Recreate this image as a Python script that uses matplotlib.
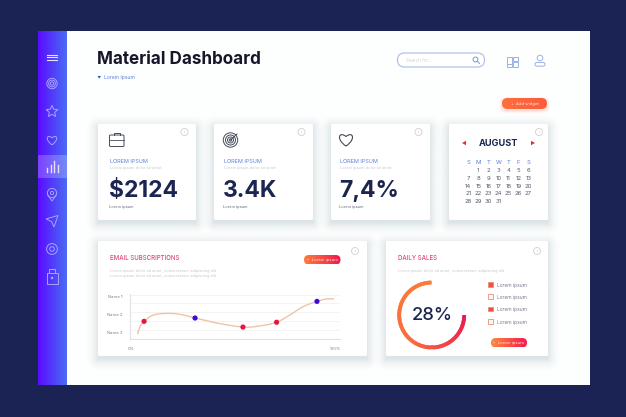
"""Material Dashboard mockup, drawn on a full-figure pixel axes."""
import matplotlib

matplotlib.use("Agg")
import matplotlib.pyplot as plt  # noqa: E402
import numpy as np  # noqa: E402
from matplotlib.collections import LineCollection  # noqa: E402
from matplotlib.colors import LinearSegmentedColormap, to_rgb  # noqa: E402
from matplotlib.patches import (Circle, FancyBboxPatch, Polygon,  # noqa: E402
                                Rectangle)
from matplotlib.path import Path  # noqa: E402
from matplotlib.patches import PathPatch  # noqa: E402

W, H = 626, 417
NAVY = "#1a2353"
INK = "#1c2550"
BLUE = "#5b7fd6"
PINK = "#d9487a"
GREY = "#c6c8d0"
ICON = "#454a5c"

# line chart
line_x = [3.3, 4.4, 6.4, 10.9, 17.5, 24, 31.4, 42, 54.9, 63.2, 71.4, 77.9, 84.3, 91.2, 95.9, 99.2]
line_y = [-0.04, 0.34, 0.63, 0.97, 1.06, 1.01, 0.81, 0.54, 0.32, 0.38, 0.58, 0.97, 1.42, 1.71, 1.84, 1.85]
red_x = [6.4, 54.9, 71.4]
red_y = [0.63, 0.32, 0.58]
blue_x = [31.4, 91.2]
blue_y = [0.81, 1.71]
grid_y = [0.15, 0.63, 1.12, 1.6, 2.07]
name_ticks = [0, 1, 2]
name_labels = ["Name 3", "Name 2", "Name 1"]
pct_ticks = [0, 100]
pct_labels = ["0%", "100%"]

# gauge: the label says 28 but the ring is drawn about three quarters round
gauge_label = "28%"
gauge_arc_pct = 75

# stat cards
card_values = ["$2124", "3.4K", "7,4%"]

# calendar
week_days = ["S", "M", "T", "W", "T", "F", "S"]
first_weekday = 1
month_days = 31

legend_filled = [True, False, True, False]


def grad_fill(ax, box, c0, c1, clip=None, horizontal=True):
    x0, y0, x1, y1 = box
    cmap = LinearSegmentedColormap.from_list("g", [c0, c1])
    g = np.linspace(0, 1, 128)
    g = g.reshape(1, -1) if horizontal else g.reshape(-1, 1)
    im = ax.imshow(g, extent=(x0, x1, y1, y0), cmap=cmap, aspect="auto",
                   origin="upper", zorder=3)
    if clip is not None:
        im.set_clip_path(clip)
    return im


def card(ax, x0, y0, x1, y1):
    # soft shadow: alpha falls off with the distance from the card box
    pad, off = 14, 3
    xs = np.arange(x0 - pad, x1 + pad + 1)
    ys = np.arange(y0 - pad + off, y1 + pad + off + 1)
    gx, gy = np.meshgrid(xs, ys)
    dx = np.maximum(np.maximum(x0 - gx, gx - x1), 0)
    dy = np.maximum(np.maximum(y0 + off - gy, gy - y1 - off), 0)
    d = np.hypot(dx, dy)
    rgba = np.zeros(d.shape + (4,))
    rgba[..., :3] = to_rgb("#5f7f8c")
    rgba[..., 3] = 0.2 * np.clip(1 - d / pad, 0, 1) ** 2
    ax.imshow(rgba, extent=(xs[0], xs[-1], ys[-1], ys[0]), aspect="auto",
              origin="upper", zorder=1.5, interpolation="bilinear")
    ax.add_patch(FancyBboxPatch((x0, y0), x1 - x0, y1 - y0,
                                boxstyle="round,pad=0,rounding_size=1.5",
                                fc="white", ec="none", zorder=2))


def info(ax, x, y):
    ax.add_patch(Circle((x, y), 3.5, fc="white", ec="#d6d6d6", lw=0.7, zorder=3))
    ax.text(x, y, "i", fontsize=3, color="#bbbbbb", ha="center", va="center", zorder=4)


def button(ax, x0, y0, x1, y1, c0, c1, label):
    pill = FancyBboxPatch((x0, y0), x1 - x0, y1 - y0,
                          boxstyle=f"round,pad=0,rounding_size={(y1 - y0) / 2}",
                          fc="none", ec="none", zorder=3)
    ax.add_patch(pill)
    grad_fill(ax, (x0, y0, x1, y1), c0, c1, clip=pill)
    ax.text((x0 + x1) / 2, (y0 + y1) / 2, label, fontsize=3.0, color="#ffe9e0",
            ha="center", va="center", zorder=5)


def star_points(cx, cy, r):
    pts = []
    for i in range(10):
        a = -np.pi / 2 + i * np.pi / 5
        rr = r if i % 2 == 0 else r * 0.45
        pts.append((cx + rr * np.cos(a), cy + rr * np.sin(a)))
    return pts


def heart(ax, cx, cy, s, color, lw):
    verts = [(cx, cy + s), (cx - s * 1.6, cy - s * 0.1), (cx - s * 1.0, cy - s * 1.3), (cx, cy - s * 0.45),
             (cx + s * 1.0, cy - s * 1.3), (cx + s * 1.6, cy - s * 0.1), (cx, cy + s)]
    codes = [Path.MOVETO] + [Path.CURVE4] * 6
    ax.add_patch(PathPatch(Path(verts, codes), fc="none", ec=color, lw=lw, zorder=4))


def rings(ax, cx, cy, radii, color, lw):
    for r in radii:
        ax.add_patch(Circle((cx, cy), r, fc="none", ec=color, lw=lw, zorder=4))


def smooth(xs, ys, n=16):
    """Catmull-Rom through the read points, for the soft curve."""
    p = np.column_stack([xs, ys])
    p = np.vstack([2 * p[0] - p[1], p, 2 * p[-1] - p[-2]])
    out = []
    for i in range(1, len(p) - 2):
        t = np.linspace(0, 1, n)[:, None]
        out.append(0.5 * (2 * p[i] + (p[i + 1] - p[i - 1]) * t
                          + (2 * p[i - 1] - 5 * p[i] + 4 * p[i + 1] - p[i + 2]) * t ** 2
                          + (3 * p[i] - p[i - 1] - 3 * p[i + 1] + p[i + 2]) * t ** 3))
    return np.vstack(out)


plt.rcParams["font.family"] = ["Inter", "DejaVu Sans"]
fig = plt.figure(figsize=(W / 100, H / 100), dpi=100, facecolor=NAVY)
ax = fig.add_axes([0, 0, 1, 1])
ax.set_xlim(0, W)
ax.set_ylim(H, 0)
ax.axis("off")
ax.set_autoscale_on(False)

# panel + sidebar
ax.add_patch(Rectangle((38, 31), 552, 354, fc="#fdfefe", ec="none", zorder=1))
grad_fill(ax, (38, 31, 67, 385), "#5a0cff", "#4a6cf4")
ax.add_patch(Rectangle((38, 155), 29, 23, fc="white", ec="none", alpha=0.22, zorder=3.5))

SIDE = "#a8a2ff"
for yy in (54.5, 57, 59.7):
    ax.plot([47.3, 57.3], [yy, yy], color="#e6e2ff", lw=0.8, zorder=4)
rings(ax, 52, 83.5, [5.2, 3.4, 1.6], SIDE, 0.7)
ax.add_patch(Polygon(star_points(52, 111.5, 6.2), closed=True, fc="none", ec=SIDE, lw=0.7, zorder=4))
heart(ax, 52, 140, 4.8, SIDE, 0.7)
for bx, bh in zip((47, 50.5, 54, 57.5), (3.5, 6.5, 11, 7)):
    ax.plot([bx, bx], [171.5, 171.5 - bh], color="#e6e2ff", lw=1.0, zorder=4)
ax.add_patch(Circle((52, 193), 4.6, fc="none", ec=SIDE, lw=0.7, zorder=4))
ax.add_patch(Circle((52, 193), 1.6, fc="none", ec=SIDE, lw=0.7, zorder=4))
ax.plot([47.8, 52, 56.2], [195, 201, 195], color=SIDE, lw=0.7, zorder=4)
ax.add_patch(Polygon([(46, 219), (58, 215.5), (54, 227), (51.5, 221.5)], closed=True,
                     fc="none", ec=SIDE, lw=0.7, zorder=4))
rings(ax, 52, 249, [5.4, 2.3], SIDE, 0.7)
ax.add_patch(Rectangle((46.5, 273), 11, 11, fc="none", ec=SIDE, lw=0.7, zorder=4))
ax.plot([48.8, 48.8, 55.2, 55.2], [273, 269, 269, 273], color=SIDE, lw=0.7, zorder=4)
ax.add_patch(Circle((52, 278), 1.3, fc=SIDE, ec="none", zorder=4))

# header
ax.text(97, 59, "Material Dashboard", fontsize=12.3, fontweight="bold", color="#16182a",
        ha="left", va="center", zorder=4)
ax.add_patch(Polygon([(97.5, 76), (101, 76), (99.2, 78.6)], closed=True, fc="#2f55c8", ec="none", zorder=4))
ax.text(104, 77.5, "Lorem Ipsum", fontsize=3.6, color=BLUE, va="center", zorder=4)

ax.add_patch(FancyBboxPatch((397.5, 53), 87, 14, boxstyle="round,pad=0,rounding_size=7",
                            fc="white", ec="#a9bbe8", lw=0.8, zorder=3))
ax.text(406.5, 60, "Search for...", fontsize=3.2, color="#ccd3e4", va="center", zorder=4)
ax.add_patch(Circle((475.5, 59.5), 2.4, fc="none", ec="#7c97c8", lw=0.7, zorder=4))
ax.plot([477.3, 479.5], [61.3, 63.5], color="#7c97c8", lw=0.7, zorder=4)
for rx, ry, rw, rh in ((507, 56.5, 5, 7), (513, 56.5, 4.5, 4), (513, 61.5, 4.5, 5.5), (507, 64, 5, 3)):
    ax.add_patch(Rectangle((rx, ry), rw, rh, fc="none", ec="#9db1e6", lw=0.7, zorder=4))
ax.add_patch(Circle((540, 58), 2.8, fc="none", ec="#9db1e6", lw=0.7, zorder=4))
ax.add_patch(FancyBboxPatch((535, 62.5), 10, 3.7, boxstyle="round,pad=0,rounding_size=1.8",
                            fc="none", ec="#9db1e6", lw=0.7, zorder=4))

for i in range(5, 0, -1):
    ax.add_patch(FancyBboxPatch((502 - i * 0.5, 98 + 1.5 - i * 0.5), 45 + i, 11 + i,
                                boxstyle="round,pad=0,rounding_size=5.5",
                                fc="#ff6a3c", ec="none", alpha=0.04, zorder=2))
button(ax, 502, 98, 547, 109, "#ff6f3c", "#fb5c3f", "+  Add widget")

# stat cards
for (x0, x1), value, txt_x in zip(((98, 196), (214, 313), (331, 430)), card_values, (110, 224, 340)):
    card(ax, x0, 124, x1, 220)
    info(ax, x1 - 11.5, 132)
    ax.text(txt_x, 161, "LOREM IPSUM", fontsize=3.9, color=BLUE, va="center", zorder=4)
    ax.text(txt_x, 168, "Lorem ipsum dolor sit amet", fontsize=2.9, color=GREY, va="center", zorder=4)
    ax.text(txt_x - 1, 191, value, fontsize=16.5, fontweight="bold", color=INK, va="center", zorder=4)
    ax.text(txt_x - 1, 207, "Lorem ipsum", fontsize=2.9, color="#666a78", va="center", zorder=4)

# card icons
ax.add_patch(FancyBboxPatch((109.5, 135), 14.5, 11.5, boxstyle="round,pad=0,rounding_size=1",
                            fc="none", ec=ICON, lw=0.7, zorder=4))
ax.plot([109.5, 124], [140, 140], color=ICON, lw=0.6, zorder=4)
ax.plot([114, 114, 119.5, 119.5], [135, 133, 133, 135], color=ICON, lw=0.7, zorder=4)
rings(ax, 230.5, 140, [7.2, 5, 3, 1.2], ICON, 0.7)
ax.plot([230.5, 237], [140, 134], color=ICON, lw=0.7, zorder=4)
heart(ax, 346, 139.5, 6.6, ICON, 0.8)

# calendar card
card(ax, 449, 124, 548, 220)
info(ax, 539, 132)
ax.text(498.5, 143, "AUGUST", fontsize=6.6, fontweight="bold", color=INK, ha="center", va="center", zorder=4)
ax.add_patch(Polygon([(462, 143), (466, 140.8), (466, 145.2)], closed=True, fc="#e0302f", ec="none", zorder=4))
ax.add_patch(Polygon([(535, 143), (531, 140.8), (531, 145.2)], closed=True, fc="#e0302f", ec="none", zorder=4))
cal_x = [468.3 + 10 * i for i in range(7)]
cal_y = [170.7, 178.3, 186, 193.7, 201.7]
for i, d in enumerate(week_days):
    ax.text(cal_x[i], 162.7, d, fontsize=4.3, color=BLUE, ha="center", va="center", zorder=4)
for day in range(1, month_days + 1):
    pos = day - 1 + first_weekday
    ax.text(cal_x[pos % 7], cal_y[pos // 7], str(day), fontsize=4.3, color="#555a6c",
            ha="center", va="center", zorder=4)

# email card
card(ax, 98, 241, 367, 356)
info(ax, 355, 251)
ax.text(110.5, 258.5, "EMAIL SUBSCRIPTIONS", fontsize=4.4, fontweight="medium", color=PINK, va="center", zorder=4)
for yy in (270.5, 275.5):
    ax.text(110.5, yy, "Lorem ipsum dolor sit amet, consectetuer adipiscing elit", fontsize=2.9,
            color=GREY, va="center", zorder=4)
button(ax, 304, 255, 340.5, 264.5, "#ff7d3c", "#f0184f", "•  Lorem ipsum")

# line chart on its own axes, px box 129.5..340 x 294..338.5
lax = fig.add_axes([129.5 / W, 1 - 338.5 / H, 210.5 / W, 44.5 / H], facecolor="none", zorder=5)
lax.set_xlim(-0.74, 102.5)
lax.set_ylim(-0.3, 2.11)
for g in grid_y:
    lax.axhline(g, color="#f3f1f1", lw=0.6, zorder=1)
curve = smooth(line_x, line_y)
lax.plot(curve[:, 0], curve[:, 1], color="#eec4a8", lw=1.0, zorder=2)
lax.scatter(red_x, red_y, s=14, color="#e3173f", edgecolor="none", zorder=3)
lax.scatter(blue_x, blue_y, s=14, color="#3d0bd8", edgecolor="none", zorder=3)
lax.set_xticks(pct_ticks, pct_labels)
lax.set_yticks(name_ticks, name_labels)
lax.tick_params(length=0, labelsize=3.0, labelcolor="#777b8c", pad=6)
lax.tick_params(axis="y", pad=5)
for s in ("top", "right"):
    lax.spines[s].set_visible(False)
for s in ("left", "bottom"):
    lax.spines[s].set_color("#dfe1e6")
    lax.spines[s].set_linewidth(0.8)

# daily sales card
card(ax, 386, 241, 548, 356)
info(ax, 537, 251)
ax.text(398.5, 258.5, "DAILY SALES", fontsize=4.4, fontweight="medium", color=PINK, va="center", zorder=4)
ax.text(398.5, 270.5, "Lorem ipsum dolor sit amet, consectetuer adipiscing elit", fontsize=2.9,
        color=GREY, va="center", zorder=4)

cx, cy, r = 431.7, 315, 32.5
ang = np.radians(np.linspace(90, 90 + 360 * gauge_arc_pct / 100, 160))
pts = np.column_stack([cx + r * np.cos(ang), cy - r * np.sin(ang)])
# each piece overlaps the next so no pale seams show between them
segs = np.stack([pts[:-2], pts[2:]], axis=1)
stops = [to_rgb("#fb7d3a"), to_rgb("#fb6a3e"), to_rgb("#ea1a50")]
tt = np.linspace(0, 1, len(segs))
cols = np.column_stack([np.interp(tt, [0, 0.55, 1], [s[k] for s in stops]) for k in range(3)])
ax.add_collection(LineCollection(segs, colors=cols, linewidths=2.7, capstyle="butt", zorder=4))
ax.text(cx + 0.5, 315.5, gauge_label, fontsize=13.2, fontweight="medium", color=INK,
        ha="center", va="center", zorder=4)

for i, filled in enumerate(legend_filled):
    yy = 284.5 + i * 12.4
    ax.add_patch(Rectangle((488, yy - 2.5), 4.6, 4.6, fc="#f2503f" if filled else "white",
                           ec="#f08a70", lw=0.6, zorder=4))
    ax.text(497, yy + 0.5, "Lorem ipsum", fontsize=3.5, color="#777b8c", va="center", zorder=4)
button(ax, 491, 338, 527, 347.5, "#ff8a3c", "#f01c50", "•  Lorem ipsum")

fig.savefig("out.png", dpi=100, facecolor=NAVY)
